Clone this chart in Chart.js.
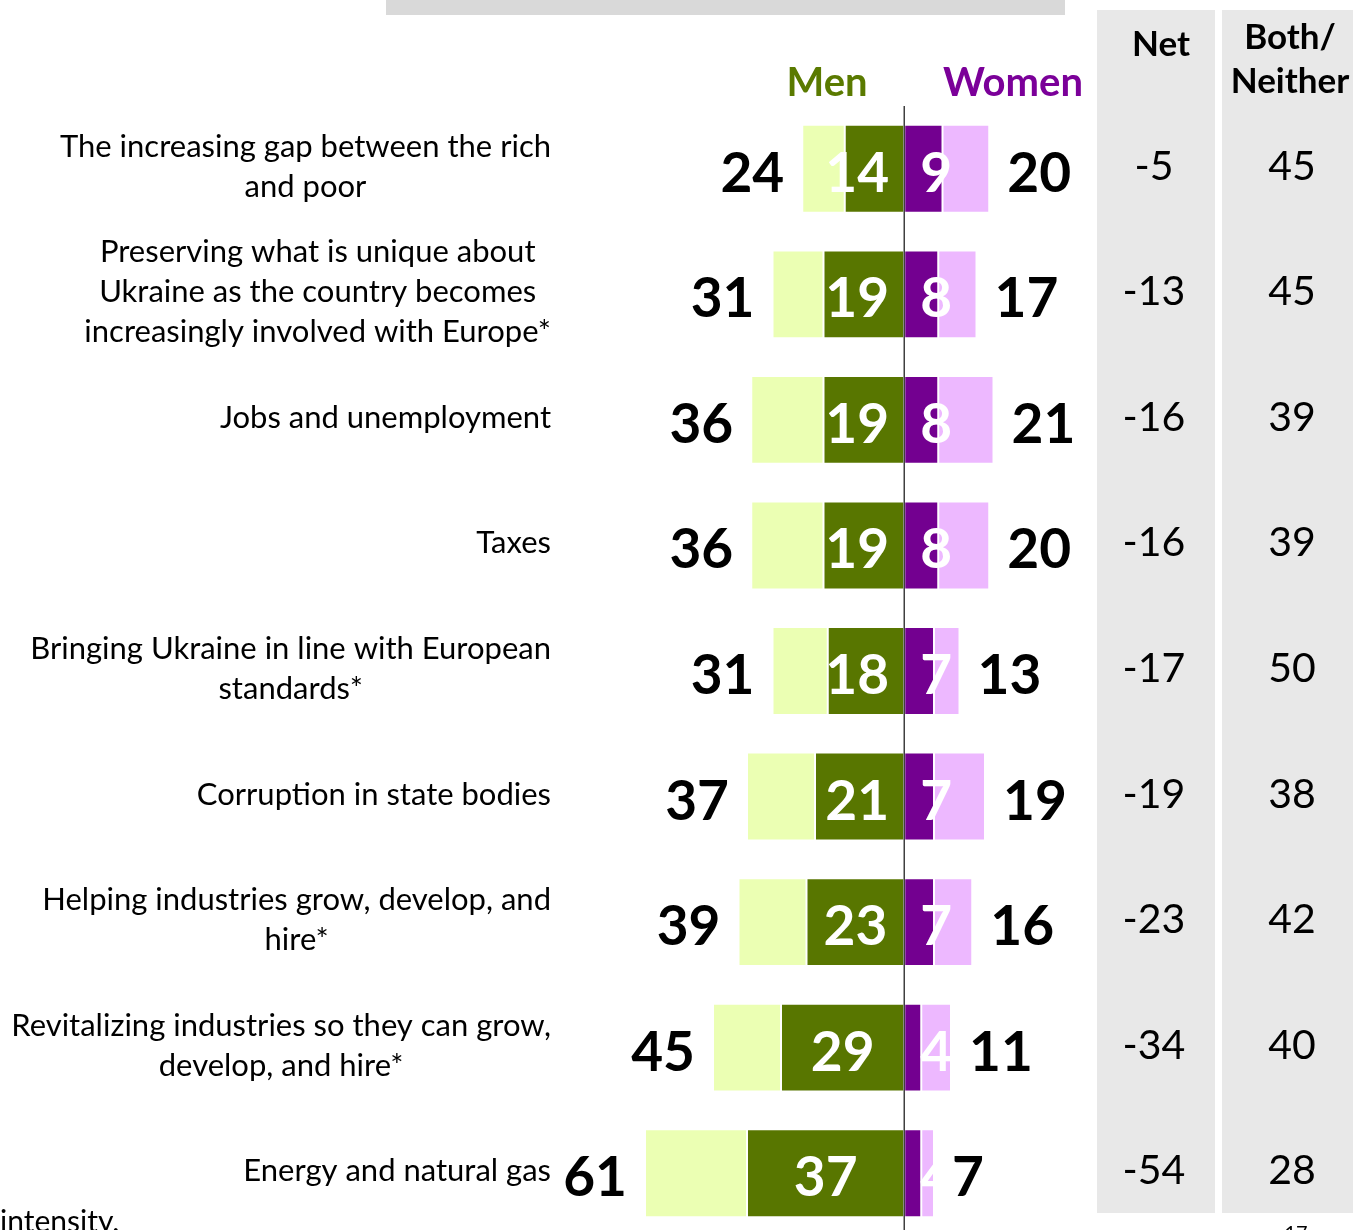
<!DOCTYPE html>
<html>
<head>
<meta charset="utf-8">
<script src="https://cdn.jsdelivr.net/npm/chart.js@4"></script>
<style>
  html, body { margin: 0; padding: 0; background: #fff; overflow: hidden; }
  canvas { display: block; }
</style>
</head>
<body>
<canvas id="myChart" width="1353" height="1236"></canvas>
<script>
const labels = [
  ["The increasing gap between the rich", "and poor"],
  ["Preserving what is unique about", "Ukraine as the country becomes", "increasingly involved with Europe*"],
  ["Jobs and unemployment"],
  ["Taxes"],
  ["Bringing Ukraine in line with European", "standards*"],
  ["Corruption in state bodies"],
  ["Helping industries grow, develop, and", "hire*"],
  ["Revitalizing industries so they can grow,", "develop, and hire*"],
  ["Energy and natural gas"],
];
const menStrong = [14, 19, 19, 19, 18, 21, 23, 29, 37];
const menTotal = [24, 31, 36, 36, 31, 37, 39, 45, 61];
const womenStrong = [9, 8, 8, 8, 7, 7, 7, 4, 4];
const womenTotal = [20, 17, 21, 20, 13, 19, 16, 11, 7];
const netValues = [-5, -13, -16, -16, -17, -19, -23, -34, -54];
const bothNeither = [45, 45, 39, 39, 50, 38, 42, 40, 28];

const FONT = "Lato";
const green = "#587600";
const lightGreen = "#ebffb3";
const purple = "#730090";
const lightPurple = "#edb8ff";

const extras = {
  id: "extras",
  beforeDraw(chart) {
    const c = chart.ctx;
    c.save();
    // leftover title box + the two side columns
    c.fillStyle = "#d9d9d9";
    c.fillRect(386, 0, 679, 15);
    c.fillStyle = "#e8e8e8";
    c.fillRect(1097, 10, 118, 1203);
    c.fillRect(1222, 10, 131, 1203);
    c.restore();
  },
  afterDatasetsDraw(chart) {
    const c = chart.ctx;
    const x = chart.scales.x;
    const y = chart.scales.y;
    const zero = x.getPixelForValue(0);
    c.save();

    // zero line
    c.strokeStyle = "#404040";
    c.lineWidth = 1.5;
    c.beginPath();
    c.moveTo(zero, chart.chartArea.top);
    c.lineTo(zero, chart.chartArea.bottom);
    c.stroke();

    // headers
    c.textAlign = "center";
    c.textBaseline = "middle";
    c.font = `bold 40px ${FONT}`;
    c.fillStyle = "#5a7a00";
    c.fillText("Men", 827, 83);
    c.fillStyle = "#7b0099";
    c.fillText("Women", 1013, 83);
    c.fillStyle = "#000";
    c.font = `bold 35px ${FONT}`;
    c.fillText("Net", 1161, 45);
    c.fillText("Both/", 1290, 38);
    c.fillText("Neither", 1290, 82);

    labels.forEach((lines, i) => {
      const yc = y.getPixelForValue(i);

      // category labels, block right edge at 551, lines centered
      c.font = `31px ${FONT}`;
      c.fillStyle = "#000";
      c.textBaseline = "middle";
      c.textAlign = "center";
      const maxW = Math.max(...lines.map((l) => c.measureText(l).width));
      const cx = 551 - maxW / 2;
      lines.forEach((l, k) => {
        c.fillText(l, cx, yc + (k - (lines.length - 1) / 2) * 40 - 2);
      });

      // values inside bars
      c.font = `bold 55px ${FONT}`;
      c.textBaseline = "alphabetic";
      c.fillStyle = "#fff";
      const mc = Math.min(x.getPixelForValue(-menStrong[i] / 2), zero - 47);
      c.fillText(menStrong[i], mc, yc + 23);
      const wc = Math.max(x.getPixelForValue(womenStrong[i] / 2), zero + 32);
      c.fillText(womenStrong[i], wc, yc + 23);

      // totals outside bars
      c.fillStyle = "#000";
      c.textAlign = "right";
      c.fillText(menTotal[i], x.getPixelForValue(-menTotal[i]) - 18, yc + 23);
      c.textAlign = "left";
      c.fillText(womenTotal[i], x.getPixelForValue(womenTotal[i]) + 18, yc + 23);

      // net and both/neither
      c.font = `41px ${FONT}`;
      c.textAlign = "center";
      c.fillText(netValues[i], 1154, yc + 11);
      c.fillText(bothNeither[i], 1292, yc + 11);
    });

    // footer bits cut off by the page edge
    c.font = `30px ${FONT}`;
    c.textAlign = "left";
    c.fillText("intensity.", 0, 1232);
    c.font = `20px ${FONT}`;
    c.textAlign = "center";
    c.textBaseline = "top";
    c.fillText("17", 1296, 1224);
    c.restore();
  },
};

const ctx = document.getElementById("myChart");
new Chart(ctx, {
  type: "bar",
  data: {
    labels: labels,
    datasets: [
      {
        label: "Men strongly",
        data: menStrong.map((v) => -v),
        backgroundColor: green,
      },
      {
        label: "Men somewhat",
        data: menTotal.map((v, i) => -(v - menStrong[i])),
        backgroundColor: lightGreen,
      },
      {
        label: "Women strongly",
        data: womenStrong,
        backgroundColor: purple,
      },
      {
        label: "Women somewhat",
        data: womenTotal.map((v, i) => v - womenStrong[i]),
        backgroundColor: lightPurple,
      },
    ],
  },
  options: {
    indexAxis: "y",
    responsive: false,
    animation: false,
    layout: { padding: { left: 560, right: 257.5, top: 106, bottom: 0 } },
    datasets: {
      bar: {
        categoryPercentage: 1,
        barPercentage: 0.7,
        borderColor: "#fff",
        borderWidth: 1,
        borderSkipped: false,
      },
    },
    plugins: {
      legend: { display: false },
      tooltip: { enabled: false },
    },
    scales: {
      x: { stacked: true, min: -81, max: 45, display: false },
      y: { stacked: true, display: false },
    },
  },
  plugins: [extras],
});
</script>
</body>
</html>
